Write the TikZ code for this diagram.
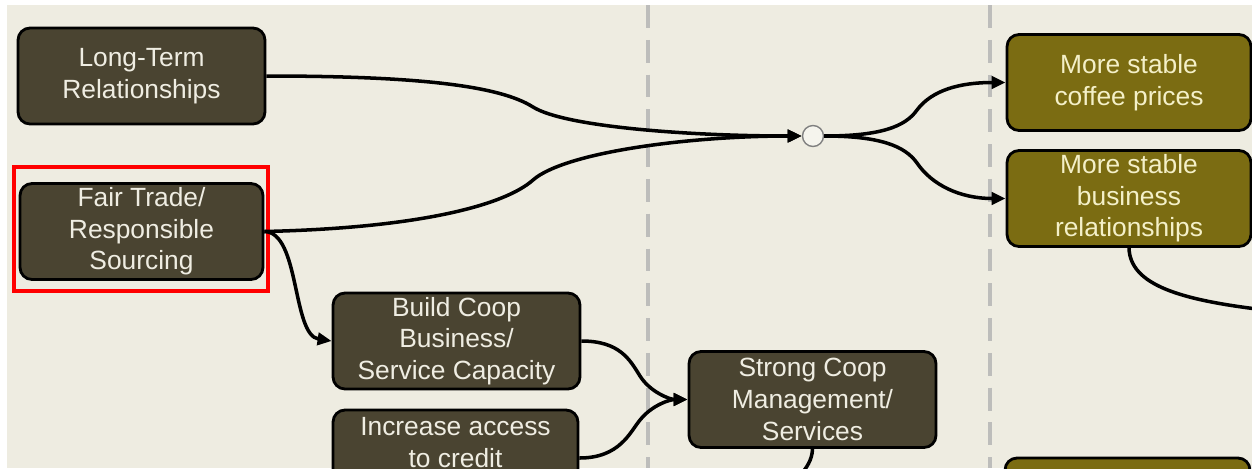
\documentclass[tikz,border=0pt]{standalone}
\usepackage{fontspec}
\setmainfont{Liberation Sans}
\usetikzlibrary{arrows.meta}

\definecolor{fond}{HTML}{EEECE1}
\definecolor{brun}{HTML}{4A4431}
\definecolor{olive}{HTML}{7B6C12}
\definecolor{texteclair}{HTML}{EFEDE2}
\definecolor{textejaune}{HTML}{F4F0C8}
\definecolor{tirets}{HTML}{BDBDBB}

\tikzset{
	boite/.style={draw=black, line width=1.6pt, rounded corners=0.24cm, align=center,
		minimum width=4.94cm, minimum height=1.92cm, inner sep=2pt,
		font=\fontsize{15}{18}\selectfont},
	brunbox/.style={boite, fill=brun, text=texteclair},
	olivebox/.style={boite, fill=olive, text=textejaune},
	jonction/.style={circle, draw=gray, line width=0.8pt, fill=fond!60!white,
		minimum size=0.42cm, inner sep=0pt},
	lien/.style={line width=2pt, -{Triangle[length=8pt,width=7pt]}},
	lienlibre/.style={line width=2pt},
	separation/.style={tirets, line width=2.4pt, dash pattern=on 13pt off 6.8pt}
}

\begin{document}
\begin{tikzpicture}[x=0.02cm, y=-0.02cm]

	\def\largeur{1252}
	\def\hauteur{468}

	\useasboundingbox (0, 0) rectangle (\largeur, \hauteur);
	\clip (0, 0) rectangle (\largeur, \hauteur);
	\fill[white] (0, 0) rectangle (\largeur, \hauteur);
	\fill[fond] (7, 5) rectangle (\largeur, \hauteur);

	% colonnes
	\foreach \x in {648, 990} {
		\draw[separation] (\x, 5) -- (\x, \hauteur);
	}

	\node[brunbox] (LT) at (141.5, 76) {Long-Term\\Relationships};
	\node[brunbox, minimum width=4.86cm] (FT) at (141.5, 231.5) {Fair Trade/\\Responsible\\Sourcing};
	\node[brunbox] (BC) at (456.5, 341) {Build Coop\\Business/\\Service Capacity};
	\node[brunbox, minimum width=4.9cm] (IC) at (455.5, 458) {Increase access\\to credit\\\mbox{}};
	\node[brunbox] (SC) at (812.5, 399.5) {Strong Coop\\Management/\\Services};

	\node[olivebox, minimum width=4.88cm] (MP) at (1129, 82.5) {More stable\\coffee prices};
	\node[olivebox, minimum width=4.88cm] (MB) at (1129, 198.5) {More stable\\business\\relationships};
	\node[olivebox, minimum width=4.9cm] (BR) at (1127.5, 506) {};

	\node[jonction] (J) at (813, 136) {};

	% mise en evidence
	\draw[red, line width=2.3pt] (14, 167) rectangle (268, 291);

	\draw[lien] (LT.east) .. controls (420, 76) and (500, 86) .. (533, 107)
		.. controls (565, 127) and (690, 136) .. (J.west);
	\draw[lien] (FT.east) .. controls (420, 228) and (505, 205) .. (533, 180)
		.. controls (565, 152) and (690, 136) .. (J.west);

	\draw[lien] (J.east) .. controls (880, 136) and (905, 127) .. (917, 110)
		.. controls (932, 90) and (960, 82.5) .. (MP.west);
	\draw[lien] (J.east) .. controls (880, 136) and (905, 146) .. (917, 163)
		.. controls (932, 185) and (960, 198.5) .. (MB.west);

	\draw[lien] (FT.east) .. controls (300, 232) and (292, 335) .. (BC.west);

	\draw[lien] (BC.east) .. controls (620, 341) and (630, 360) .. (640, 376)
		.. controls (650, 392) and (670, 399.5) .. (SC.west);
	\draw[lien] (IC.east) .. controls (620, 458) and (630, 432) .. (640, 420)
		.. controls (652, 405) and (670, 399.5) .. (SC.west);

	\draw[lienlibre] (SC.south) .. controls (812, 470) and (790, 485) .. (770, 500);
	\draw[lienlibre] (MB.south) .. controls (1130, 285) and (1180, 300) .. (1265, 310);

\end{tikzpicture}
\end{document}
